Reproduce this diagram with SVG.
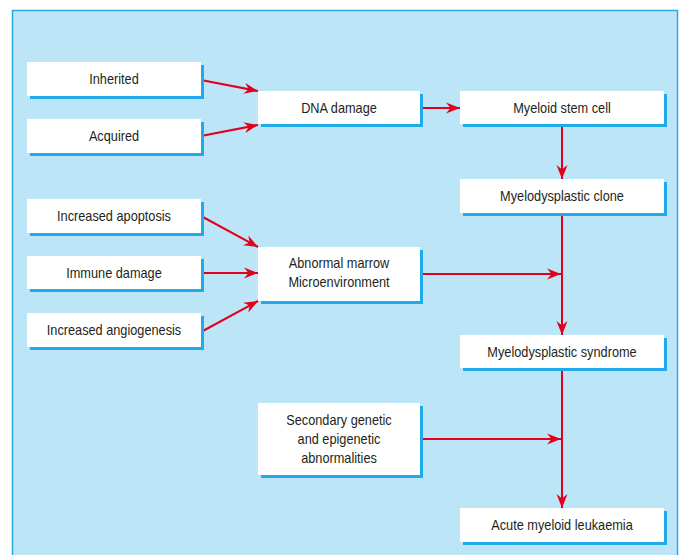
<svg xmlns="http://www.w3.org/2000/svg" width="681" height="555" viewBox="0 0 681 555">
<defs>
<style>
.bg{fill:#bde5f8;stroke:#2aa8e4;stroke-width:1.5}
.sh{fill:#1fabeb}
.bx{fill:#ffffff}
.t{font-family:"Liberation Sans",Arial,sans-serif;font-size:14px;fill:#231f20;text-anchor:middle}
.c{stroke:#e2001a;stroke-width:2;fill:none}
</style>
<marker id="ah" viewBox="-14 -6 15 12" markerWidth="15" markerHeight="12" refX="0" refY="0" orient="auto" markerUnits="userSpaceOnUse">
<path d="M0,0 L-14,-5.5 L-9.5,0 L-14,5.5 Z" fill="#e2001a"/>
</marker>
</defs>
<rect x="0" y="0" width="681" height="555" fill="#ffffff"/>
<rect class="bg" x="12.5" y="10.5" width="665" height="560"/>

<g id="connectors">
<line class="c" x1="201" y1="80" x2="258" y2="91" marker-end="url(#ah)"/>
<line class="c" x1="201" y1="136" x2="258" y2="125" marker-end="url(#ah)"/>
<line class="c" x1="420" y1="108" x2="460" y2="108" marker-end="url(#ah)"/>
<line class="c" x1="562" y1="124" x2="562" y2="179" marker-end="url(#ah)"/>
<line class="c" x1="201" y1="216" x2="258" y2="247" marker-end="url(#ah)"/>
<line class="c" x1="201" y1="273" x2="258" y2="273" marker-end="url(#ah)"/>
<line class="c" x1="201" y1="332" x2="258" y2="301" marker-end="url(#ah)"/>
<line class="c" x1="420" y1="274" x2="561" y2="274" marker-end="url(#ah)"/>
<line class="c" x1="562" y1="213" x2="562" y2="335" marker-end="url(#ah)"/>
<line class="c" x1="420" y1="439" x2="561" y2="439" marker-end="url(#ah)"/>
<line class="c" x1="562" y1="368" x2="562" y2="508" marker-end="url(#ah)"/>
</g>

<g id="inherited">
<rect class="sh" x="30" y="65" width="174" height="34"/>
<rect class="bx" x="27" y="62" width="174" height="34"/>
<text class="t" transform="translate(114,84) scale(0.91,1)">Inherited</text>
</g>
<g id="acquired">
<rect class="sh" x="30" y="122" width="174" height="34"/>
<rect class="bx" x="27" y="119" width="174" height="34"/>
<text class="t" transform="translate(114,141) scale(0.91,1)">Acquired</text>
</g>
<g id="dna-damage">
<rect class="sh" x="261" y="94" width="162" height="33"/>
<rect class="bx" x="258" y="91" width="162" height="33"/>
<text class="t" transform="translate(339,112.5) scale(0.91,1)">DNA damage</text>
</g>
<g id="myeloid-stem-cell">
<rect class="sh" x="463" y="94" width="204" height="33"/>
<rect class="bx" x="460" y="91" width="204" height="33"/>
<text class="t" transform="translate(562,112.5) scale(0.91,1)">Myeloid stem cell</text>
</g>
<g id="myelodysplastic-clone">
<rect class="sh" x="463" y="182" width="204" height="34"/>
<rect class="bx" x="460" y="179" width="204" height="34"/>
<text class="t" transform="translate(562,201) scale(0.91,1)">Myelodysplastic clone</text>
</g>
<g id="increased-apoptosis">
<rect class="sh" x="30" y="202" width="174" height="34"/>
<rect class="bx" x="27" y="199" width="174" height="34"/>
<text class="t" transform="translate(114,221) scale(0.91,1)">Increased apoptosis</text>
</g>
<g id="immune-damage">
<rect class="sh" x="30" y="259" width="174" height="33"/>
<rect class="bx" x="27" y="256" width="174" height="33"/>
<text class="t" transform="translate(114,277.5) scale(0.91,1)">Immune damage</text>
</g>
<g id="increased-angiogenesis">
<rect class="sh" x="30" y="316" width="174" height="34"/>
<rect class="bx" x="27" y="313" width="174" height="34"/>
<text class="t" transform="translate(114,335) scale(0.91,1)">Increased angiogenesis</text>
</g>
<g id="abnormal-marrow">
<rect class="sh" x="261" y="250" width="162" height="54"/>
<rect class="bx" x="258" y="247" width="162" height="54"/>
<text class="t" transform="translate(339,268) scale(0.91,1)">Abnormal marrow</text>
<text class="t" transform="translate(339,287) scale(0.91,1)">Microenvironment</text>
</g>
<g id="myelodysplastic-syndrome">
<rect class="sh" x="463" y="338" width="204" height="33"/>
<rect class="bx" x="460" y="335" width="204" height="33"/>
<text class="t" transform="translate(562,356.5) scale(0.91,1)">Myelodysplastic syndrome</text>
</g>
<g id="secondary-genetic">
<rect class="sh" x="261" y="406" width="162" height="72"/>
<rect class="bx" x="258" y="403" width="162" height="72"/>
<text class="t" transform="translate(339,425) scale(0.91,1)">Secondary genetic</text>
<text class="t" transform="translate(339,444) scale(0.91,1)">and epigenetic</text>
<text class="t" transform="translate(339,463) scale(0.91,1)">abnormalities</text>
</g>
<g id="acute-myeloid-leukaemia">
<rect class="sh" x="463" y="511" width="204" height="34"/>
<rect class="bx" x="460" y="508" width="204" height="34"/>
<text class="t" transform="translate(562,530) scale(0.91,1)">Acute myeloid leukaemia</text>
</g>
</svg>
